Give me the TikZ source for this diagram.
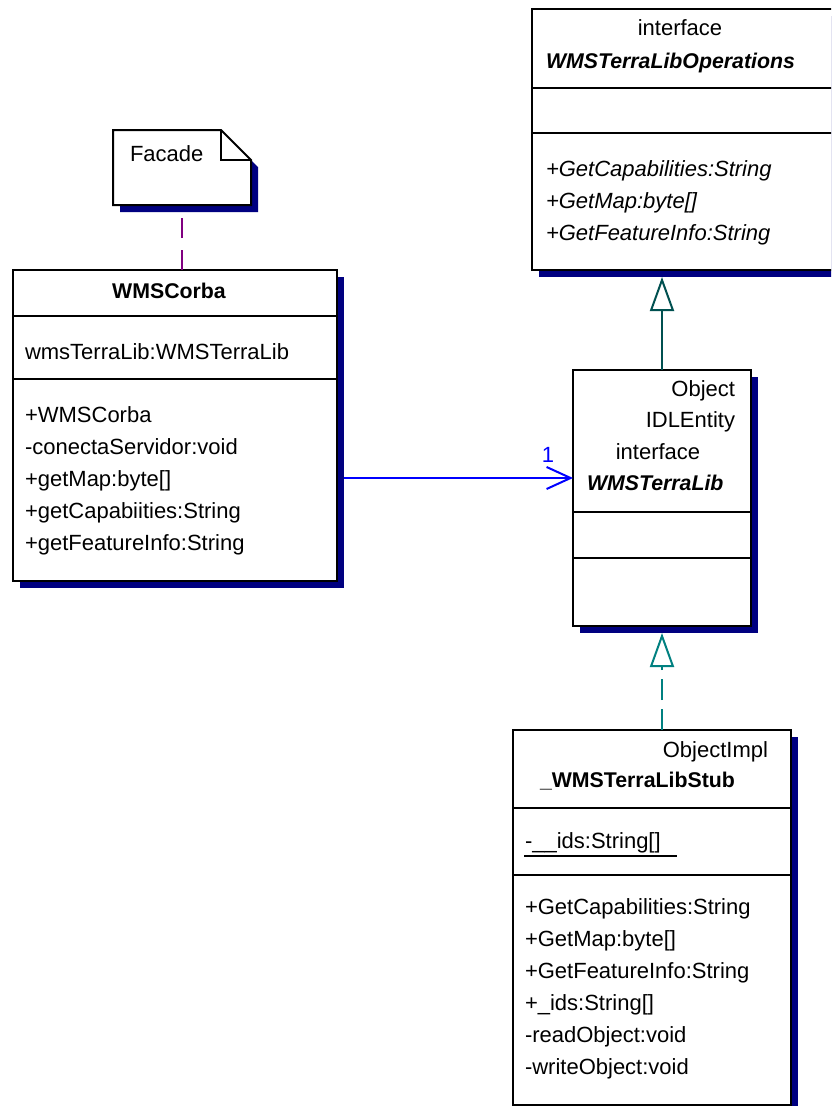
\documentclass[tikz,border=0pt]{standalone}
\usepackage{fontspec}
\setmainfont{Liberation Sans}
\usetikzlibrary{arrows.meta,shadows,calc}
\definecolor{umlshadow}{RGB}{0,0,128}
\definecolor{notelink}{RGB}{128,0,128}
\definecolor{genline}{RGB}{0,80,80}
\definecolor{realline}{RGB}{0,128,128}
\definecolor{assocline}{RGB}{0,0,255}
\begin{document}
\begin{tikzpicture}[x=1pt,y=-1pt,
  umlbox/.style={rectangle, draw=black, line width=2pt, fill=white,
    anchor=north west, inner sep=0pt, outer sep=0pt,
    drop shadow={shadow xshift=7pt, shadow yshift=-7pt, opacity=1, fill=umlshadow}},
  sepline/.style={draw=black, line width=2pt},
  txt/.style={font=\fontsize{22}{26}\selectfont, inner sep=0pt, outer sep=0pt},
  member/.style={txt, anchor=base west},
  oper/.style={txt, anchor=base west, font=\fontsize{22}{26}\selectfont\itshape},
  classname/.style={txt, font=\fontsize{21.3}{26}\selectfont\bfseries},
  ifacename/.style={txt, font=\fontsize{21.3}{26}\selectfont\bfseries\itshape},
  gentip/.style={-{Triangle[length=34pt,width=24pt,fill=white]}},
]
\useasboundingbox (0,0) rectangle (831,1106);
\clip (0,0) rectangle (831,1106);

% ---------- note "Facade" ----------
\node[rectangle, inner sep=0pt, outer sep=0pt, anchor=north west,
      minimum width=138pt, minimum height=75pt] (note) at (113,130) {};
\fill[umlshadow]
  ([shift={(7,7)}]note.north west) -- ([shift={(-23,7)}]note.north east)
  -- ([shift={(7,37)}]note.north east) -- ([shift={(7,7)}]note.south east)
  -- ([shift={(7,7)}]note.south west) -- cycle;
\draw[line width=2pt, fill=white]
  (note.north west) -- ([shift={(-30,0)}]note.north east)
  -- ([shift={(0,30)}]note.north east) -- (note.south east)
  -- (note.south west) -- cycle;
\draw[line width=2pt]
  ([shift={(-30,0)}]note.north east) -- ([shift={(-30,30)}]note.north east)
  -- ([shift={(0,30)}]note.north east);
\node[member] (notetext) at (130,161) {Facade};

% ---------- class WMSCorba ----------
\node[umlbox, minimum width=324pt, minimum height=311pt] (corba) at (13,270) {};
\draw[sepline] ([shift={(0,46)}]corba.north west) -- ([shift={(0,46)}]corba.north east);
\draw[sepline] ([shift={(0,109)}]corba.north west) -- ([shift={(0,109)}]corba.north east);
\node[classname, anchor=base] (corbaname) at (169,298) {WMSCorba};
\node[member] (corbaattr) at (25,359) {wmsTerraLib:WMSTerraLib};
\node[member] (corbam1) at (25,422) {+WMSCorba};
\node[member] (corbam2) at (25,454) {-conectaServidor:void};
\node[member] (corbam3) at (25,486) {+getMap:byte[]};
\node[member] (corbam4) at (25,518) {+getCapabiities:String};
\node[member] (corbam5) at (25,550) {+getFeatureInfo:String};

% ---------- interface WMSTerraLibOperations ----------
\node[umlbox, minimum width=330pt, minimum height=261pt] (ops) at (532,9) {};
\draw[sepline] ([shift={(0,79)}]ops.north west) -- ([shift={(0,79)}]ops.north east);
\draw[sepline] ([shift={(0,124)}]ops.north west) -- ([shift={(0,124)}]ops.north east);
\node[txt, anchor=base] (opsster) at (680,35) {interface};
\node[ifacename, anchor=base west] (opsname) at (546,68) {WMSTerraLibOperations};
\node[oper] (opsm1) at (546,176) {+GetCapabilities:String};
\node[oper] (opsm2) at (546,208) {+GetMap:byte[]};
\node[oper] (opsm3) at (546,240) {+GetFeatureInfo:String};

% ---------- interface WMSTerraLib ----------
\node[umlbox, minimum width=178pt, minimum height=256pt] (lib) at (573,370) {};
\draw[sepline] ([shift={(0,142)}]lib.north west) -- ([shift={(0,142)}]lib.north east);
\draw[sepline] ([shift={(0,188)}]lib.north west) -- ([shift={(0,188)}]lib.north east);
\node[txt, anchor=base east] (libs1) at (735,396) {Object};
\node[txt, anchor=base east] (libs2) at (735,427) {IDLEntity};
\node[txt, anchor=base] (libs3) at (658,459) {interface};
\node[ifacename, anchor=base west] (libname) at (587,490) {WMSTerraLib};

% ---------- class _WMSTerraLibStub ----------
\node[umlbox, minimum width=278pt, minimum height=375pt] (stub) at (513,730) {};
\draw[sepline] ([shift={(0,78)}]stub.north west) -- ([shift={(0,78)}]stub.north east);
\draw[sepline] ([shift={(0,145)}]stub.north west) -- ([shift={(0,145)}]stub.north east);
\node[txt, anchor=base east] (stubster) at (768,757) {ObjectImpl};
\node[classname, anchor=base west] (stubname) at (540,787) {\_WMSTerraLibStub};
\node[member] (ids) at (525,848) {-\_\_ids:String[]};
\draw[line width=1.5pt] ([shift={(-1,8)}]ids.base west) -- ([shift={(152,8)}]ids.base west);
\node[member] (stubm1) at (525,914) {+GetCapabilities:String};
\node[member] (stubm2) at (525,946) {+GetMap:byte[]};
\node[member] (stubm3) at (525,978) {+GetFeatureInfo:String};
\node[member] (stubm4) at (525,1010) {+\_ids:String[]};
\node[member] (stubm5) at (525,1042) {-readObject:void};
\node[member] (stubm6) at (525,1074) {-writeObject:void};

% ---------- connectors ----------
% note attachment
\draw[notelink, line width=2pt, dash pattern=on 20pt off 12pt]
  (corba.north -| note.south) -- ($(note.south)+(0,7)$);
% generalization WMSTerraLib -> WMSTerraLibOperations
\draw[genline, line width=2pt, gentip]
  (lib.north) -- ($(ops.south -| lib.north)+(0,7)$);
% realization _WMSTerraLibStub -> WMSTerraLib
\draw[realline, line width=2pt, dash pattern=on 21pt off 9pt, gentip]
  (stub.north -| lib.south) -- ($(lib.south)+(0,7)$);
% association WMSCorba -> WMSTerraLib
\coordinate (assocy) at (0,478);
\draw[assocline, line width=2pt, -{Straight Barb[length=24pt,width=22pt]}]
  ($(corba.east |- assocy)+(7,0)$) -- (lib.west |- assocy);
\node[txt, anchor=base, text=assocline] (mult) at (548,462) {1};
\end{tikzpicture}
\end{document}
